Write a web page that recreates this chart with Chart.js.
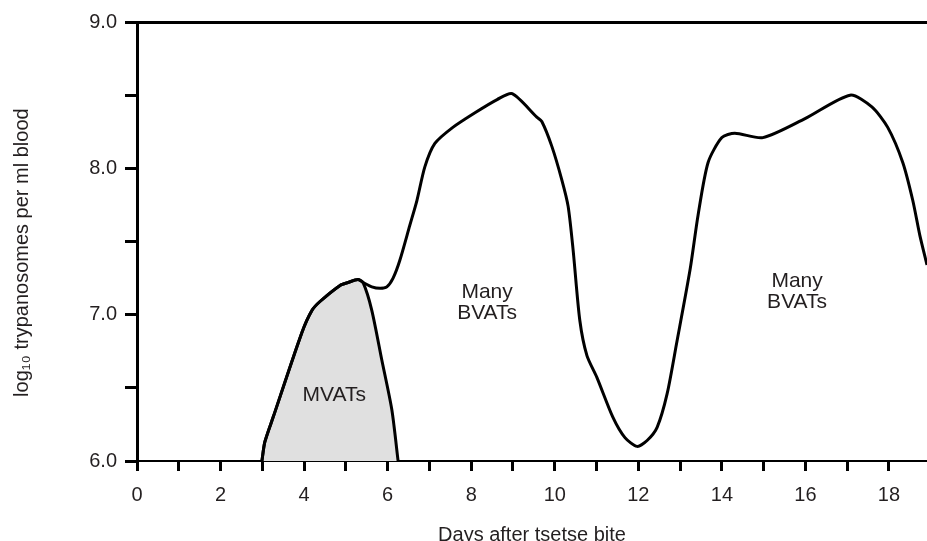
<!DOCTYPE html>
<html>
<head>
<meta charset="utf-8">
<title>Parasitaemia after tsetse bite</title>
<script src="https://cdn.jsdelivr.net/npm/chart.js@4/dist/chart.umd.min.js"></script>
<style>
  html, body { margin: 0; padding: 0; background: #fff; }
  #wrap { width: 927px; height: 541px; }
</style>
</head>
<body>
<div id="wrap"><canvas id="chart" width="927" height="541"></canvas></div>
<script>
// Parasitaemia (log10 trypanosomes per ml) against days after the tsetse bite
const days = [2.99, 3.06, 3.26, 3.95, 4.19, 4.38, 4.86, 5.05, 5.29, 5.41, 5.62, 5.82, 5.98, 6.13,
  6.29, 6.53, 6.70, 6.89, 7.13, 7.56, 8.09, 8.62, 8.98, 9.57, 9.69, 9.93, 10.17, 10.32, 10.44,
  10.60, 10.77, 11.01, 11.39, 11.68, 11.97, 12.21, 12.45, 12.69, 12.92, 13.24, 13.43, 13.67,
  14.00, 14.31, 14.98, 15.99, 17.07, 17.59, 17.97, 18.33, 18.57, 18.74, 18.91];
const logParasites = [6.00, 6.13, 6.30, 6.88, 7.03, 7.09, 7.20, 7.22, 7.24, 7.22, 7.19, 7.18, 7.19, 7.25,
  7.37, 7.61, 7.78, 8.01, 8.17, 8.28, 8.38, 8.47, 8.51, 8.35, 8.32, 8.15, 7.92, 7.74, 7.44,
  6.96, 6.72, 6.57, 6.30, 6.16, 6.10, 6.14, 6.23, 6.46, 6.81, 7.31, 7.68, 8.04,
  8.21, 8.24, 8.21, 8.34, 8.50, 8.42, 8.28, 8.04, 7.78, 7.54, 7.34];

// Early (metacyclic) variant population: rises with the main wave, then falls away
const mvatDays = [2.99, 3.06, 3.26, 3.95, 4.19, 4.38, 4.86, 5.05, 5.29, 5.41, 5.62, 5.86, 6.10, 6.25];
const mvatLog  = [6.00, 6.13, 6.30, 6.88, 7.03, 7.09, 7.20, 7.22, 7.24, 7.22, 7.03, 6.69, 6.35, 6.00];

// Text placed inside the plot
const regionLabels = ['MVATs', 'Many\nBVATs', 'Many\nBVATs'];
const regionDays   = [4.72, 8.38, 15.80];
const regionLogs   = [6.45, 7.08, 7.16];

// Axis ticks: a mark every day / every half log, labels on every other day / whole logs
const xTickValues = [0, 1, 2, 3, 4, 5, 6, 7, 8, 9, 10, 11, 12, 13, 14, 15, 16, 17, 18];
const xLabelValues = [0, 2, 4, 6, 8, 10, 12, 14, 16, 18];
const yTickValues = [6, 6.5, 7, 7.5, 8, 8.5, 9];
const yLabelValues = [6, 7, 8, 9];

const FONT = "'Liberation Sans', Arial, Helvetica, sans-serif";
const INK = '#000';
const TEXT = '#231f20';

const toPoints = (xs, ys) => xs.map((x, i) => ({ x, y: ys[i] }));

const regionText = {
  id: 'regionText',
  afterDatasetsDraw(chart) {
    const { ctx, scales } = chart;
    ctx.save();
    ctx.fillStyle = TEXT;
    ctx.font = `21px ${FONT}`;
    ctx.textAlign = 'center';
    ctx.textBaseline = 'middle';
    regionLabels.forEach((label, i) => {
      const lines = label.split('\n');
      const cx = scales.x.getPixelForValue(regionDays[i]);
      const cy = scales.y.getPixelForValue(regionLogs[i]);
      const lh = 21;
      const top = cy - (lines.length - 1) * lh / 2;
      lines.forEach((ln, k) => ctx.fillText(ln, cx, top + k * lh));
    });
    ctx.restore();
  }
};

new Chart(document.getElementById('chart'), {
  type: 'scatter',
  data: {
    datasets: [
      {
        label: 'parasitaemia',
        data: toPoints(days, logParasites),
        showLine: true,
        borderColor: INK,
        borderWidth: 3,
        pointRadius: 0,
        tension: 0.25,
        fill: false,
        order: 0
      },
      {
        label: 'MVATs',
        data: toPoints(mvatDays, mvatLog),
        showLine: true,
        borderColor: INK,
        borderWidth: 3,
        backgroundColor: '#e0e0e0',
        pointRadius: 0,
        tension: 0.25,
        fill: { value: 6 },
        order: 1
      }
    ]
  },
  options: {
    responsive: false,
    devicePixelRatio: 1,
    animation: false,
    layout: { padding: { left: 0, right: 0, top: 0, bottom: 0 } },
    plugins: { legend: { display: false }, tooltip: { enabled: false } },
    scales: {
      x: {
        type: 'linear',
        position: 'bottom',
        min: 0,
        max: 18.91,
        afterBuildTicks(scale) {
          scale.ticks = xTickValues.map(v => ({ value: v }));
        },
        afterFit(scale) { scale.height = 80; },
        ticks: {
          color: TEXT,
          font: { family: FONT, size: 20 },
          padding: 12,
          maxRotation: 0,
          autoSkip: false,
          callback: v => (xLabelValues.includes(v) ? String(v) : '')
        },
        grid: {
          drawOnChartArea: false,
          drawTicks: true,
          tickLength: 10,
          tickWidth: 3,
          tickColor: INK
        },
        border: { display: true, color: INK, width: 2 },
        title: {
          display: true,
          text: 'Days after tsetse bite',
          color: TEXT,
          font: { family: FONT, size: 20 },
          padding: { top: 0, bottom: -6 }
        }
      },
      xTop: {
        type: 'linear',
        position: 'top',
        min: 0,
        max: 18.91,
        afterFit(scale) { scale.height = 22; },
        ticks: { display: false },
        grid: { drawOnChartArea: false, drawTicks: false },
        border: { display: true, color: INK, width: 3 }
      },
      y: {
        type: 'linear',
        min: 6,
        max: 9,
        afterBuildTicks(scale) {
          scale.ticks = yTickValues.map(v => ({ value: v }));
        },
        afterFit(scale) { scale.width = 137; },
        ticks: {
          color: TEXT,
          font: { family: FONT, size: 20 },
          padding: 8,
          callback: v => (yLabelValues.includes(v) ? v.toFixed(1) : '')
        },
        grid: {
          drawOnChartArea: false,
          drawTicks: true,
          tickLength: 12,
          tickWidth: 3,
          tickColor: INK
        },
        border: { display: true, color: INK, width: 3 },
        title: {
          display: true,
          text: 'log\u2081\u2080 trypanosomes per ml blood    ',
          color: TEXT,
          font: { family: FONT, size: 20 },
          padding: { top: 10, bottom: 0 }
        }
      }
    }
  },
  plugins: [regionText]
});
</script>
</body>
</html>
